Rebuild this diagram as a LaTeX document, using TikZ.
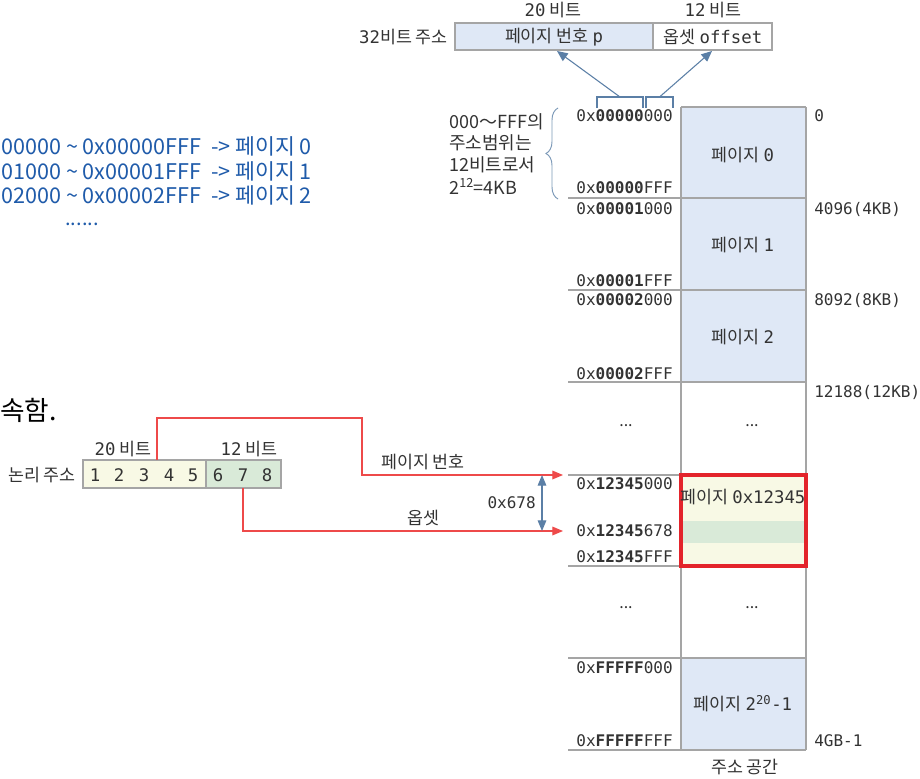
\documentclass[tikz,border=0pt]{standalone}
\usepackage{fontspec}
\setmainfont{Noto Sans CJK KR}
\setmonofont{DejaVu Sans Mono}
\usetikzlibrary{arrows.meta,decorations.pathreplacing,calc}
\definecolor{pgblue}{HTML}{DFE8F6}
\definecolor{bordergray}{HTML}{A5A5A5}
\definecolor{pyellow}{HTML}{F8F9E5}
\definecolor{pgreen}{HTML}{D9EAD8}
\definecolor{redline}{HTML}{EE4A4A}
\definecolor{redbox}{HTML}{E3242B}
\definecolor{arrowblue}{HTML}{5B7FA6}
\definecolor{txt}{HTML}{333333}
\definecolor{bluetxt}{HTML}{1F5BAA}
\newcommand{\mt}[1]{{\ttfamily #1}}
\newcommand{\hx}[2]{0x\textbf{#1}#2}
\begin{document}
\begin{tikzpicture}[x=0.75pt,y=-0.75pt,
  every node/.style={inner sep=0pt, text=txt},
  kr/.style={font=\fontsize{13}{15}\selectfont},
  krbig/.style={font=\fontsize{13.5}{15}\selectfont, anchor=west},
  hexlab/.style={anchor=east, font=\fontsize{12}{14}\selectfont\ttfamily},
  offlab/.style={anchor=west, font=\fontsize{12}{14}\selectfont\ttfamily},
  digit/.style={font=\fontsize{13}{15}\selectfont\ttfamily},
  bluetext/.style={anchor=west, text=bluetxt, font=\fontsize{16.2}{18}\selectfont},
  gridline/.style={draw=bordergray, line width=1.4pt},
  blueln/.style={draw=arrowblue, line width=0.8pt},
  bluearrow/.style={blueln, -{Triangle[length=8pt,width=7pt]}},
  redln/.style={draw=redline, line width=0.9pt, -{Triangle[length=8pt,width=6.5pt]}, fill=none},
  dots/.style={font=\fontsize{12}{14}\selectfont, text=txt}
]
\fill[white] (0,0) rectangle (920,778);
\useasboundingbox (0,0) rectangle (920,778);

% ---------- top 32-bit address ----------
\draw[gridline, fill=pgblue] (455,23) rectangle (653,50);
\draw[gridline, fill=white] (653,23) rectangle (772,50);
\node[kr] (pn) at (554,37) {페이지 번호 \mt{p}};
\node[kr] (off) at (713,37) {옵셋 \mt{offset}};
\node[kr, anchor=east] (addr32) at (448,37) {\mt{32}비트 주소};
\node[kr] (b20top) at (553,10) {\mt{20} 비트};
\node[kr] (b12top) at (713,10) {\mt{12} 비트};

% brackets under 0x00000000
\draw[blueln] (597,108) -- (597,97) -- (643,97) -- (643,108);
\draw[blueln] (646,108) -- (646,97) -- (673,97) -- (673,108);
\coordinate (brL) at (620,97);
\coordinate (brR) at (659.5,97);
\coordinate (tipL) at (557,51);
\coordinate (tipR) at (712,51);
\draw[bluearrow] (brL) -- (tipL);
\draw[bluearrow] (brR) -- (tipR);

% ---------- address space column ----------
\fill[pgblue] (681,107) rectangle (806,382);
\fill[pyellow] (681,475) rectangle (806,566);
\fill[pgreen] (681,521) rectangle (806,543);
\fill[pgblue] (681,658) rectangle (806,750);
\draw[gridline] (681,107) -- (806,107);
\foreach \yy in {198,290,382,475,566,658,750}{
  \draw[gridline] (568,\yy) -- (806,\yy);
}
\draw[gridline] (681,107) -- (681,750);
\draw[gridline] (806,107) -- (806,750);
\draw[draw=redbox, line width=2.5pt] (681,475) rectangle (806,566);

% hex labels
\node[hexlab] (h1) at (673,116) {\hx{00000}{000}};
\node[hexlab] (h2) at (673,188) {\hx{00000}{FFF}};
\node[hexlab] (h3) at (673,209) {\hx{00001}{000}};
\node[hexlab] (h4) at (673,281) {\hx{00001}{FFF}};
\node[hexlab] (h5) at (673,300) {\hx{00002}{000}};
\node[hexlab] (h6) at (673,374) {\hx{00002}{FFF}};
\node[hexlab] (h7) at (673,484) {\hx{12345}{000}};
\node[hexlab] (h8) at (673,531) {\hx{12345}{678}};
\node[hexlab] (h9) at (673,557) {\hx{12345}{FFF}};
\node[hexlab] (h10) at (673,668) {\hx{FFFFF}{000}};
\node[hexlab] (h11) at (673,741) {\hx{FFFFF}{FFF}};

% right offsets
\node[offlab] (o1) at (814,116) {0};
\node[offlab] (o2) at (814,209) {4096(4KB)};
\node[offlab] (o3) at (814,300) {8092(8KB)};
\node[offlab] (o4) at (814,392) {12188(12KB)};
\node[offlab] (o5) at (814,741) {4GB-1};

% page labels
\node[kr] (p0) at (743,155) {페이지 \mt{0}};
\node[kr] (p1) at (743,245) {페이지 \mt{1}};
\node[kr] (p2) at (743,337) {페이지 \mt{2}};
\node[dots] (d1) at (626,426) {...};
\node[dots] (d2) at (752,426) {...};
\node[kr] (px) at (743,497) {페이지 \mt{0x12345}};
\node[dots] (d3) at (626,608) {...};
\node[dots] (d4) at (752,608) {...};
\node[kr] (plast) at (743,704) {페이지 \mt{2\textsuperscript{20}-1}};
\node[kr] (space) at (745,767) {주소 공간};

% brace and explanation
\draw[blueln, line width=0.7pt, draw=arrowblue!80, decorate, decoration={brace, amplitude=9pt}] (558,199) -- (558,108);
\node[krbig] (e1) at (449,122) {000～FFF의};
\node[krbig] (e2) at (449,143) {주소범위는};
\node[krbig] (e3) at (449,165) {12비트로서};
\node[krbig] (e4) at (449,186) {2\textsuperscript{12}=4KB};

% ---------- left blue text ----------
\node[bluetext] (bt1) at (1,146) {00000 \textasciitilde{} 0x00000FFF \ -> 페이지 0};
\node[bluetext] (bt2) at (1,171) {01000 \textasciitilde{} 0x00001FFF \ -> 페이지 1};
\node[bluetext] (bt3) at (1,195) {02000 \textasciitilde{} 0x00002FFF \ -> 페이지 2};
\node[text=bluetxt, font=\fontsize{15}{16}\selectfont] (bt4) at (82,224) {......};

\node[anchor=west, text=black, font=\fontsize{20}{22}\selectfont] (frag) at (0,410) {속함.};

% ---------- logical address ----------
\draw[draw=bordergray, line width=1.5pt, fill=pyellow] (83,460) rectangle (206,488);
\draw[draw=bordergray, line width=1.5pt, fill=pgreen] (206,460) rectangle (281,488);
\foreach \dx [count=\i] in {95,119,144,169,193,218,243,267}{
  \node[digit] (dg\i) at (\dx,475) {\i};
}
\node[kr, anchor=east] (logaddr) at (76,475) {논리 주소};
\node[kr] (b20) at (123,449) {\mt{20} 비트};
\node[kr] (b12) at (249,449) {\mt{12} 비트};

\coordinate (pnStart) at (157,460);
\coordinate (pnEnd) at (563,475);
\coordinate (ofStart) at (243,488);
\coordinate (ofEnd) at (563,531);
\draw[redln] (pnStart) |- (362,418) |- (pnEnd);
\draw[redln] (ofStart) |- (ofEnd);
\node[kr] (lpn) at (423,462) {페이지 번호};
\node[kr] (lof) at (423,518) {옵셋};

\coordinate (dimTop) at (542,475);
\coordinate (dimBot) at (542,531);
\draw[blueln, {Triangle[length=8pt,width=6.5pt]}-{Triangle[length=8pt,width=6.5pt]}] (dimTop) -- (dimBot);
\node[hexlab] (d678) at (536,503) {0x678};
\end{tikzpicture}
\end{document}
